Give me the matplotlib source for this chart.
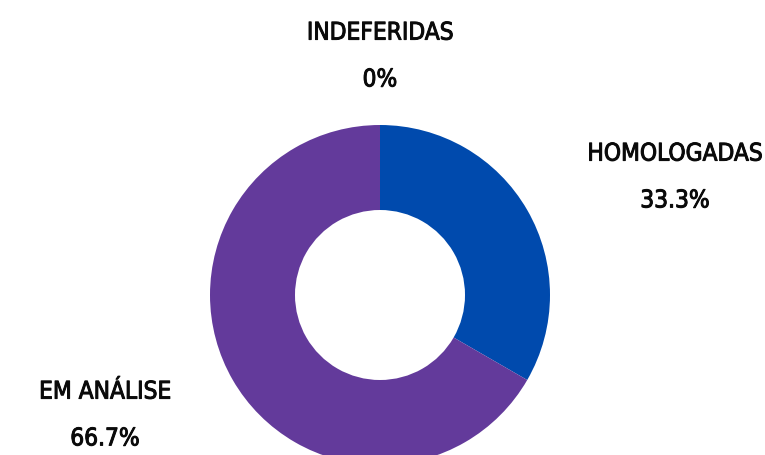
import matplotlib
matplotlib.use('Agg')
import matplotlib.pyplot as plt
import matplotlib.patheffects as pe

# data
labels = ['HOMOLOGADAS', 'EM ANÁLISE', 'INDEFERIDAS']
values = [1, 2, 0]
colors = ['#004AAD', '#633A9B', '#888888']

plt.rcParams['font.family'] = ['DejaVu Sans']

fig = plt.figure(figsize=(7.65, 4.56), dpi=100)
ax = fig.add_axes([0, 0, 1, 1])
ax.set_xlim(0, 765)
ax.set_ylim(0, 456)
ax.set_aspect('equal')
ax.axis('off')

ax.pie(values, colors=colors, startangle=90, counterclock=False,
       center=(380, 160), radius=170,
       wedgeprops=dict(width=85, edgecolor='none'))
ax.set_xlim(0, 765)
ax.set_ylim(0, 456)

total = sum(values)
pct = [f'{v / total * 100:.1f}%' if v else '0%' for v in values]

# label positions (text layout)
pos = {'HOMOLOGADAS': (675, 278), 'EM ANÁLISE': (105, 40), 'INDEFERIDAS': (380, 399)}
for lab, p in zip(labels, pct):
    x, y = pos[lab]
    ax.text(x, y, lab + '\n' + p, ha='center', va='center', fontsize=17.5,
            fontstretch='condensed', color='#0a0a0a', linespacing=2.2,
            path_effects=[pe.withStroke(linewidth=0.7, foreground='#0a0a0a')])

fig.savefig('out.png', dpi=100)
